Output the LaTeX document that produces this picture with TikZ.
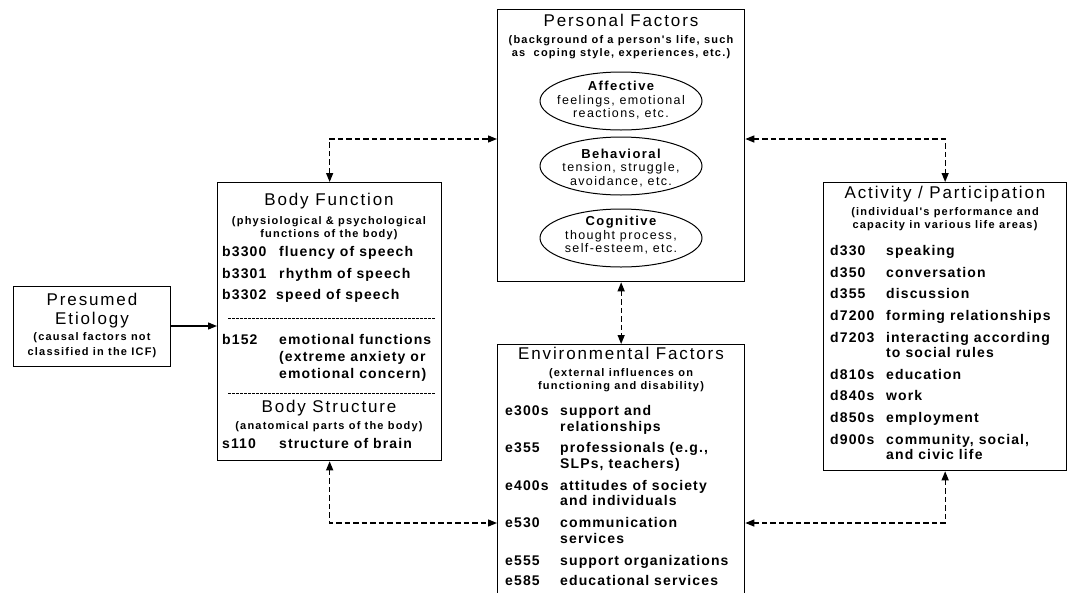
\documentclass[tikz,border=0pt]{standalone}
\usepackage{fontspec}
\usetikzlibrary{arrows.meta,shapes.geometric}
\newfontfamily\hf{Liberation Sans}[LetterSpace=11]
\newfontfamily\ef{Liberation Sans}[LetterSpace=8]
\newcommand\entr[6]{%
  \node[entry] (#1c) at (#2,#4) {#5};
  \node[entry] (#1d) at (#3,#4) {#6};}
\newcommand\cont[4]{\node[entry] (#1) at (#2,#3) {#4};}
\begin{document}
\begin{tikzpicture}[x=1pt,y=-1pt,
  box/.style={draw, line width=1.3pt, inner sep=0pt, anchor=north west},
  head/.style={font={\hf\fontsize{17}{20}\selectfont}, anchor=mid, inner sep=0pt},
  subt/.style={font={\hf\bfseries\fontsize{11}{12.8}\selectfont}, align=center, anchor=center, inner sep=0pt},
  entry/.style={font={\ef\bfseries\fontsize{14}{16}\selectfont}, anchor=mid west, inner sep=0pt},
  ovtxt/.style={font={\hf\fontsize{12.5}{13.5}\selectfont}, align=center, anchor=center, inner sep=0pt},
  oval/.style={draw, ellipse, line width=1pt, minimum width=162pt, minimum height=58pt, inner sep=0pt},
  sep/.style={line width=0.8pt, dash pattern=on 2.5pt off 1.5pt},
  dl/.style={line width=1.3pt, dash pattern=on 5.5pt off 3pt, {Triangle[length=9pt,width=7pt]}-{Triangle[length=9pt,width=7pt]}},
  sl/.style={line width=1.3pt, -{Triangle[length=9pt,width=7pt]}}
]
\useasboundingbox (0,0) rectangle (1071,592);

% ---------- boxes ----------
\node[box, minimum width=157pt, minimum height=80pt] (et) at (13,286) {};
\node[box, minimum width=224pt, minimum height=278pt] (bf) at (217,182) {};
\node[box, minimum width=247pt, minimum height=272pt] (pf) at (497,9) {};
\node[box, minimum width=247pt, minimum height=254pt] (ef) at (497,344) {};
\node[box, minimum width=243pt, minimum height=288pt] (act) at (823,182) {};

% ---------- Presumed Etiology ----------
\node[head] (etA) at (92,303) {Presumed};
\node[head] (etB) at (92,322) {Etiology};
\node[subt, font={\hf\bfseries\fontsize{11}{15}\selectfont}] (etC) at (92,345.5) {(causal factors not\\classified in the ICF)};

% ---------- Body Function ----------
\node[head] (bfT) at (329,203) {Body Function};
\node[subt] (bfS) at (329,228) {(physiological \& psychological\\functions of the body)};
\entr{b1}{222}{279}{254}{b3300}{fluency of speech}
\entr{b2}{222}{279}{276}{b3301}{rhythm of speech}
\entr{b3}{222}{276}{297}{b3302}{speed of speech}
\draw[sep] (228,318) -- (436,318);
\entr{b4}{222}{279}{342}{b152}{emotional functions}
\cont{b4e}{279}{359}{(extreme anxiety or}
\cont{b4f}{279}{376}{emotional concern)}
\draw[sep] (228,393) -- (436,393);
\node[head] (bsT) at (329,410) {Body Structure};
\node[subt] (bsS) at (329,427) {(anatomical parts of the body)};
\entr{s1}{222}{279}{446}{s110}{structure of brain}

% ---------- Personal Factors ----------
\node[head] (pfT) at (621,24) {Personal Factors};
\node[subt] (pfS) at (621,47.5) {(background of a person's life, such\\as\ \ coping style, experiences, etc.)};
\node[oval] (aff) at (621,101) {};
\node[ovtxt] (affT) at (621,100.5) {{\bfseries\fontsize{13}{13.5}\selectfont Affective}\\feelings, emotional\\reactions, etc.};
\node[oval] (beh) at (621,166) {};
\node[ovtxt] (behT) at (621,168) {{\bfseries\fontsize{13}{13.5}\selectfont Behavioral}\\tension, struggle,\\avoidance, etc.};
\node[oval] (cog) at (621,238) {};
\node[ovtxt] (cogT) at (621,235.5) {{\bfseries\fontsize{13}{13.5}\selectfont Cognitive}\\thought process,\\self-esteem, etc.};

% ---------- Environmental Factors ----------
\node[head] (efT) at (621,357) {Environmental Factors};
\node[subt] (efS) at (621,380.5) {(external influences on\\functioning and disability)};
\entr{e1}{505}{560}{413}{e300s}{support and}
\cont{e1e}{560}{429}{relationships}
\entr{e2}{505}{560}{450}{e355}{professionals (e.g.,}
\cont{e2e}{560}{466}{SLPs, teachers)}
\entr{e3}{505}{560}{488}{e400s}{attitudes of society}
\cont{e3e}{560}{503}{and individuals}
\entr{e4}{505}{560}{525}{e530}{communication}
\cont{e4e}{560}{541}{services}
\entr{e5}{505}{560}{563}{e555}{support organizations}
\entr{e6}{505}{560}{583}{e585}{educational services}

% ---------- Activity / Participation ----------
\node[head] (acT) at (945,196) {Activity / Participation};
\node[subt] (acS) at (945,219) {(individual's performance and\\capacity in various life areas)};
\entr{d1}{830}{886}{253}{d330}{speaking}
\entr{d2}{830}{886}{275}{d350}{conversation}
\entr{d3}{830}{886}{296}{d355}{discussion}
\entr{d4}{830}{886}{318}{d7200}{forming relationships}
\entr{d5}{830}{886}{340}{d7203}{interacting according}
\cont{d5e}{886}{355}{to social rules}
\entr{d6}{830}{886}{377}{d810s}{education}
\entr{d7}{830}{886}{398}{d840s}{work}
\entr{d8}{830}{886}{420}{d850s}{employment}
\entr{d9}{830}{886}{442}{d900s}{community, social,}
\cont{d9e}{886}{457}{and civic life}

% ---------- connectors ----------
\coordinate (jt) at (0,139);
\coordinate (jb) at (0,523);
\coordinate (je) at (0,326);
\draw[sl] (et.east |- je) -- (bf.west |- je);
\draw[dl] (bf.north) |- (pf.west |- jt);
\draw[dl] (pf.east |- jt) -| (act.north);
\draw[dl] (pf.south) -- (ef.north);
\draw[dl] (bf.south) |- (ef.west |- jb);
\draw[dl] (act.south) |- (ef.east |- jb);
\end{tikzpicture}
\end{document}
